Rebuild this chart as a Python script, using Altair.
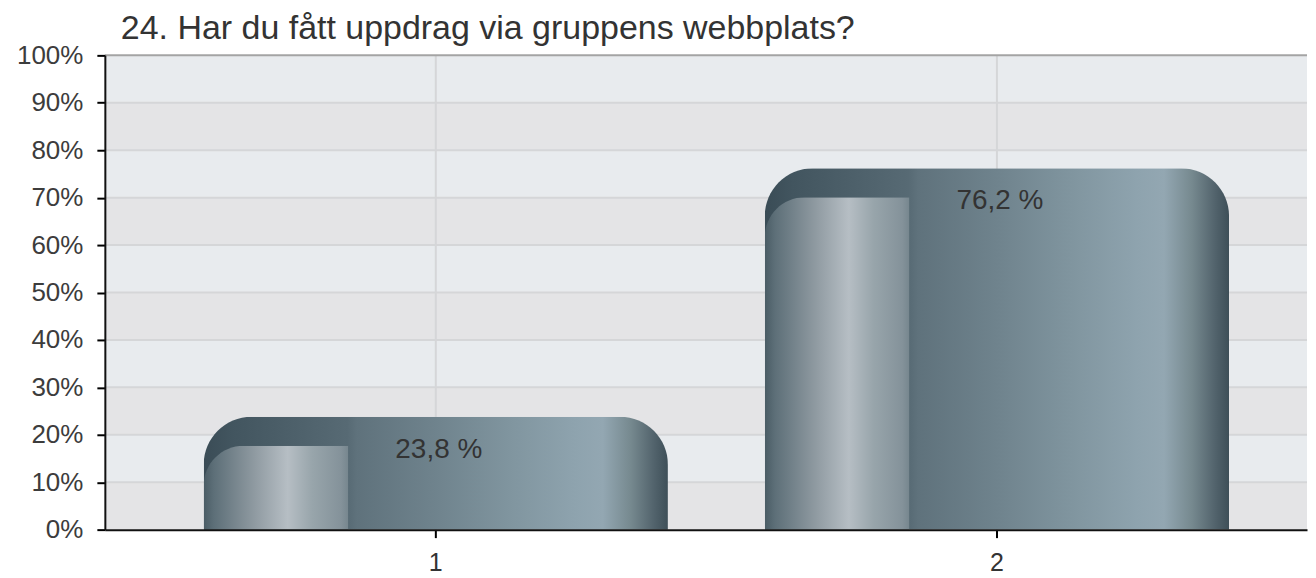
import altair as alt
import pandas as pd

FONT = "Liberation Sans, Arial, Helvetica, sans-serif"

# ---- data ----
title_text = "24. Har du fått uppdrag via gruppens webbplats?"
categories = ["1", "2"]
values = [23.8, 76.2]
y_ticks = [0, 10, 20, 30, 40, 50, 60, 70, 80, 90, 100]
light_band_lo = [10, 30, 50, 70, 90]
grid_values = [10, 20, 30, 40, 50, 60, 70, 80, 90]
top_border = [100]

labels = [f"{v:.1f}".replace(".", ",") + " %" for v in values]
df = pd.DataFrame({"cat": categories, "val": values, "label": labels})
bands = pd.DataFrame({"lo": light_band_lo, "hi": [v + 10 for v in light_band_lo]})
grid_df = pd.DataFrame({"val": grid_values})
top_df = pd.DataFrame({"val": top_border})
vgrid_df = pd.DataFrame({"cat": categories})

W, H = 1204, 475
GLOSS_DROP_PX = 29

yscale = alt.Scale(domain=[0, 100], nice=False, zero=True)
yaxis = alt.Axis(
    title=None, values=y_ticks, labelExpr="datum.value + '%'",
    labelFontSize=26, labelFont=FONT, labelColor="#3c3c3c", labelPadding=14,
    tickSize=8, tickColor="#000000", tickWidth=2,
    domainColor="#111111", domainWidth=2, grid=False, zindex=1,
)
xscale = alt.Scale(domain=categories, paddingInner=0.1726, paddingOuter=0.1575, align=0.559)
xaxis = alt.Axis(
    title=None, labelAngle=0, labelFontSize=25, labelFont=FONT, labelColor="#333333",
    labelPadding=13, tickSize=8, tickColor="#000000", tickWidth=2,
    domainColor="#111111", domainWidth=2, grid=False, zindex=1, bandPosition=0.5,
)


def Y(field, **kw):
    return alt.Y(field, scale=yscale, axis=yaxis, **kw)


def X(field):
    return alt.X(field, type="nominal", scale=xscale, axis=xaxis, sort=categories)


main_grad = {
    "gradient": "linear", "x1": 0, "x2": 1, "y1": 0, "y2": 0,
    "stops": [
        {"offset": 0.0, "color": "#3a4c56"},
        {"offset": 0.06, "color": "#42555f"},
        {"offset": 0.31, "color": "#576a74"},
        {"offset": 0.33, "color": "#5f727c"},
        {"offset": 0.5, "color": "#6f838d"},
        {"offset": 0.66, "color": "#80959f"},
        {"offset": 0.8, "color": "#8ea3ae"},
        {"offset": 0.86, "color": "#93a7b2"},
        {"offset": 0.92, "color": "#76898f"},
        {"offset": 0.97, "color": "#52636c"},
        {"offset": 1.0, "color": "#3e4f58"},
    ],
}
gloss_grad = {
    "gradient": "linear", "x1": 0, "x2": 1, "y1": 0, "y2": 0,
    "stops": [
        {"offset": 0.0, "color": "#4a5c65"},
        {"offset": 0.07, "color": "#5d6f78"},
        {"offset": 0.35, "color": "#8f9aa1"},
        {"offset": 0.58, "color": "#b6bec4"},
        {"offset": 0.75, "color": "#98a5ab"},
        {"offset": 0.95, "color": "#84929a"},
        {"offset": 1.0, "color": "#76868e"},
    ],
}

band_layer = alt.Chart(bands).mark_rect(color="#e8ebee").encode(
    x=alt.value(0), x2=alt.value(W), y=Y("lo:Q"), y2="hi:Q"
)
hgrid = alt.Chart(grid_df).mark_rule(color="#d5d6d8", strokeWidth=2).encode(y=Y("val:Q"))
topline = alt.Chart(top_df).mark_rule(color="#a4a4a4", strokeWidth=2).encode(y=Y("val:Q"))
vgrid = alt.Chart(vgrid_df).mark_rule(color="#d5d6d8", strokeWidth=2).encode(x=X("cat"))

bars = alt.Chart(df).mark_bar(
    cornerRadiusTopLeft=48, cornerRadiusTopRight=48, color=main_grad
).encode(x=X("cat"), y=Y("val:Q"))

gloss = alt.Chart(df).transform_calculate(
    gtop=f"datum.val - {GLOSS_DROP_PX} * 100 / {H}"
).mark_bar(
    width=145, xOffset=-160,
    cornerRadiusTopLeft=40, color=gloss_grad
).encode(x=X("cat"), y=Y("gtop:Q"))

text = alt.Chart(df).mark_text(
    baseline="middle", align="center", dx=3, dy=33, fontSize=28, font=FONT, color="#333333"
).encode(x=X("cat"), y=Y("val:Q"), text="label:N")

chart = alt.layer(band_layer, hgrid, vgrid, topline, bars, gloss, text).properties(
    width=W, height=H,
    title=alt.TitleParams(
        text=title_text, anchor="start", frame="group", dx=16, fontSize=34, font=FONT,
        color="#333333", fontWeight="normal", offset=-4,
    ),
    padding={"left": 8, "top": 4, "right": 0, "bottom": 0},
    background="#ffffff",
).configure_view(stroke=None, fill="#e4e4e6")

chart.save("out.html", embed_options={"renderer": "svg", "actions": False})
